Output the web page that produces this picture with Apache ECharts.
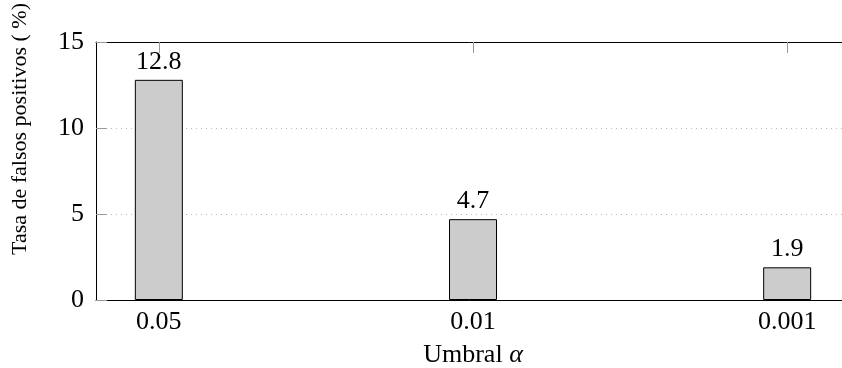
<!DOCTYPE html>
<html>
<head>
<meta charset="utf-8">
<script src="https://cdn.jsdelivr.net/npm/echarts@6/dist/echarts.min.js"></script>
<style>html,body{margin:0;padding:0;background:#fff;}#c{width:842px;height:368px;}</style>
</head>
<body>
<div id="c"></div>
<script>
const categories = ['0.05', '0.01', '0.001'];
const rates = [12.8, 4.7, 1.9];
const yTicks = [0, 5, 10, 15];
const xTitle = 'Umbral ';
const yTitle = 'Tasa de falsos positivos ( %)';

const FONT = 'Liberation Serif';
const positions = categories.map((c, i) => i);
const chart = echarts.init(document.getElementById('c'));
chart.setOption({
  animation: false,
  textStyle: { fontFamily: FONT },
  grid: { left: 96, top: 42, right: -8, bottom: 68, containLabel: false, outerBoundsMode: 'none' },
  xAxis: [{
    type: 'value', min: -0.2, max: 2.2, position: 'bottom',
    axisLine: { show: true, onZero: false, lineStyle: { color: '#000', width: 1 } },
    axisTick: { show: true, inside: true, length: 11, customValues: positions, lineStyle: { color: '#999' } },
    axisLabel: { show: true, customValues: positions, formatter: v => categories[Math.round(v)] ?? '', fontSize: 26, color: '#000', margin: 9, fontFamily: FONT },
    splitLine: { show: false },
    name: xTitle + '{i|α}', nameLocation: 'middle', nameGap: 42,
    nameTextStyle: { fontSize: 26, color: '#000', fontFamily: FONT, rich: { i: { fontSize: 26, fontStyle: 'italic', fontFamily: FONT, color: '#000' } } }
  }, {
    type: 'value', min: -0.2, max: 2.2, position: 'top',
    axisLine: { show: true, onZero: false, lineStyle: { color: '#000', width: 1 } },
    axisTick: { show: true, inside: true, length: 11, customValues: positions, lineStyle: { color: '#999' } },
    axisLabel: { show: false },
    splitLine: { show: false }
  }],
  yAxis: {
    type: 'value', min: 0, max: 15, interval: 5,
    axisLine: { show: true, onZero: false, lineStyle: { color: '#000', width: 1 } },
    axisTick: { show: true, inside: true, length: 11, lineStyle: { color: '#999' } },
    axisLabel: { fontSize: 26, color: '#000', margin: 12, fontFamily: FONT },
    splitLine: { show: true, lineStyle: { type: [1, 4], color: '#bbb', width: 1 } }
  },
  graphic: [{
    type: 'text', x: 20, y: 129, rotation: Math.PI / 2,
    style: { text: yTitle, font: '22px "' + FONT + '"', fill: '#000', align: 'center', verticalAlign: 'middle' }
  }],
  series: [{
    type: 'bar', xAxisIndex: 0,
    data: rates.map((v, i) => [positions[i], v]),
    barWidth: 48,
    itemStyle: { color: '#cccccc', borderColor: '#000', borderWidth: 1 },
    label: { show: true, position: 'top', distance: 5, fontSize: 26, color: '#000', fontFamily: FONT, formatter: p => p.value[1].toFixed(1) }
  }]
});
</script>
</body>
</html>
